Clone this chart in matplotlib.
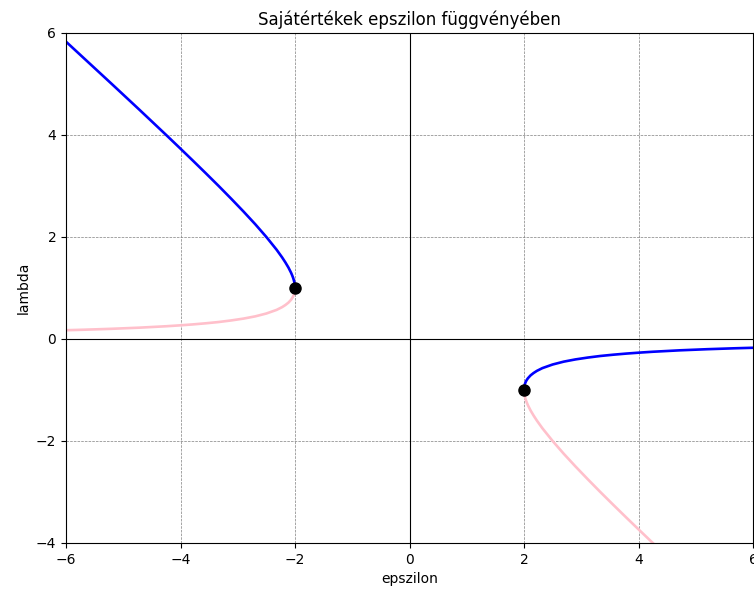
import matplotlib
matplotlib.use("Agg")
import matplotlib.pyplot as plt

# Left branch (epsilon <= -2): upper (blue) and lower (pink) eigenvalues
left_eps = [-2.0, -2.0024, -2.009, -2.0196, -2.033, -2.05, -2.069, -2.114, -2.167,
            -2.225, -2.321, -2.5, -2.694, -2.9, -3.114, -3.333, -3.558, -3.786, -4.017,
            -4.25, -4.722, -5.2, -5.682, -6.0]
left_upper = [1.0, 1.05, 1.1, 1.15, 1.2, 1.25, 1.3, 1.4, 1.5,
              1.6, 1.75, 2.0, 2.25, 2.5, 2.75, 3.0, 3.25, 3.5, 3.75,
              4.0, 4.5, 5.0, 5.5, 5.83]
left_lower = [1.0, 0.952, 0.909, 0.870, 0.833, 0.8, 0.769, 0.714, 0.667,
              0.625, 0.571, 0.5, 0.444, 0.4, 0.364, 0.333, 0.308, 0.286, 0.267,
              0.25, 0.222, 0.2, 0.182, 0.172]

# Right branch (epsilon >= 2)
right_eps = [2.0, 2.0024, 2.009, 2.0196, 2.033, 2.05, 2.069, 2.114, 2.167,
             2.225, 2.321, 2.5, 2.694, 2.9, 3.114, 3.333, 3.558, 3.786, 4.017,
             4.25, 4.722, 5.2, 5.682, 6.0]
right_upper = [-1.0, -0.952, -0.909, -0.870, -0.833, -0.8, -0.769, -0.714, -0.667,
               -0.625, -0.571, -0.5, -0.444, -0.4, -0.364, -0.333, -0.308, -0.286, -0.267,
               -0.25, -0.222, -0.2, -0.182, -0.172]
right_lower = [-1.0, -1.05, -1.1, -1.15, -1.2, -1.25, -1.3, -1.4, -1.5,
               -1.6, -1.75, -2.0, -2.25, -2.5, -2.75, -3.0, -3.25, -3.5, -3.75,
               -4.0, -4.5, -5.0, -5.5, -5.83]

# Bifurcation points
bif_eps = [-2, 2]
bif_lam = [1, -1]

fig = plt.figure(figsize=(7.54, 5.92), dpi=100)
ax = fig.add_axes([66/754, 1 - 543/592, (753 - 66)/754, (543 - 33)/592])

ax.plot(left_eps, left_upper, color="blue", lw=1.9)
ax.plot(left_eps, left_lower, color="pink", lw=1.9)
ax.plot(right_eps, right_upper, color="blue", lw=1.9)
ax.plot(right_eps, right_lower, color="pink", lw=1.9)
ax.plot(bif_eps, bif_lam, "o", color="black", markersize=8, zorder=5)

ax.axhline(0, color="black", lw=0.8)
ax.axvline(0, color="black", lw=0.8)

ax.set_xlim(-6, 6)
ax.set_ylim(-4, 6)
ax.grid(True, linestyle="--", color="gray", linewidth=0.5)
ax.set_title("Sajátértékek epszilon függvényében")
ax.set_xlabel("epszilon")
ax.set_ylabel("lambda")

fig.savefig("out.png", dpi=100)
